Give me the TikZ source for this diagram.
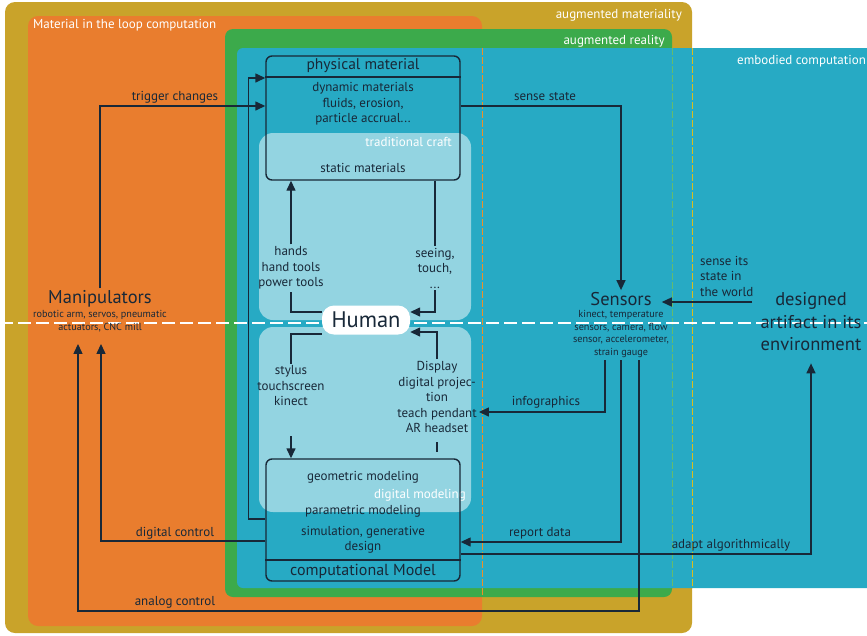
\documentclass[tikz,border=0pt]{standalone}
\usepackage{fontspec}
\setmainfont{PT Sans}
\usetikzlibrary{arrows.meta,calc}
\definecolor{olivec}{RGB}{201,163,42}
\definecolor{orngc}{RGB}{233,125,46}
\definecolor{grnc}{RGB}{60,170,75}
\definecolor{tealc}{RGB}{39,170,196}
\definecolor{ink}{RGB}{24,40,56}
\begin{document}
\begin{tikzpicture}[x=1pt,y=-1pt,
  conn/.style={draw=ink, line width=1.4pt},
  arr/.style={conn, -{Triangle[length=10pt,width=9pt]}},
  lbl/.style={text=ink, font=\fontsize{13}{15.5}\selectfont, align=center, inner sep=2pt},
  regionlbl/.style={text=white, font=\fontsize{13}{14}\selectfont, inner sep=0pt},
  boxnode/.style={draw=ink, line width=1.4pt, rounded corners=6pt, minimum width=194pt, inner sep=0pt},
  biglbl/.style={text=ink, font=\fontsize{18.5}{22.5}\selectfont, align=center, inner sep=2pt},
  sublbl/.style={text=ink, font=\fontsize{10.2}{12.8}\selectfont, align=center, inner sep=2pt},
  vdash/.style={line width=0.9pt, dash pattern=on 7pt off 2pt},
]
\useasboundingbox (0,0) rectangle (867,635);
\fill[white] (0,0) rectangle (867,635);
% regions
\fill[olivec, rounded corners=10pt] (5,2) rectangle (692,633);
\fill[orngc, rounded corners=10pt] (28,16) rectangle (482,626);
\fill[grnc, rounded corners=8pt] (225,29) rectangle (672,597);
\fill[tealc, rounded corners=6pt] (237,48) rectangle (890,588);
\fill[white, fill opacity=0.5, rounded corners=14pt] (259,133) rectangle (471,320);
\fill[white, fill opacity=0.5, rounded corners=14pt] (259,327) rectangle (471,512);
\draw[vdash, orngc!85!yellow] (482,48) -- (482,597);
\draw[vdash, grnc!80!white] (672,48) -- (672,588);
\draw[vdash, olivec!70!yellow] (692,48) -- (692,588);
\draw[white, line width=1.4pt, dash pattern=on 13pt off 5pt] (0,323) -- (867,323);
% region labels
\node[regionlbl, anchor=west] (rl1) at (33,25) {Material in the loop computation};
\node[regionlbl, anchor=east] (rl2) at (682,15) {augmented materiality};
\node[regionlbl, anchor=east] (rl3) at (665,41) {augmented reality};
\node[regionlbl, anchor=west] (rl4) at (737,61) {embodied computation};
\node[regionlbl, anchor=east] (rl5) at (452,142) {traditional craft};
\node[regionlbl, anchor=east] (rl6) at (466,495) {digital modeling};
% physical material box
\node[boxnode, minimum height=124pt] (pm) at (363,118) {};
\draw[conn] (pm.west |- 0,77) -- (pm.east |- 0,77);
\node[lbl, font=\fontsize{15.5}{16}\selectfont] (pmt) at (363,66) {physical material};
\node[lbl] (pmd) at (363,104) {dynamic materials\\fluids, erosion,\\particle accrual...};
\node[lbl] (pms) at (363,168) {static materials};
% computational model box
\node[boxnode, minimum height=122pt] (cm) at (363,520) {};
\draw[conn] (cm.west |- 0,560) -- (cm.east |- 0,560);
\node[lbl] (cm1) at (363,477) {geometric modeling};
\node[lbl] (cm2) at (363,511) {parametric modeling};
\node[lbl] (cm3) at (363,540) {simulation, generative\\design};
\node[lbl, font=\fontsize{16}{17}\selectfont] (cmt) at (363,571) {computational Model};
% human
\node[fill=white, rounded corners=12pt, minimum width=88pt, minimum height=29pt, text=ink, font=\fontsize{22.5}{24}\selectfont, inner sep=0pt] (hu) at (366,320) {Human};
% interface texts
\node[lbl] (hands) at (291,268) {hands\\hand tools\\power tools};
\node[lbl] (seeing) at (435,268) {seeing,\\touch,\\...};
\node[lbl] (stylus) at (291,386) {stylus\\touchscreen\\kinect};
\node[lbl] (display) at (437,397) {Display\\digital projec-\\tion\\teach pendant\\AR headset};
% outer nodes
\node[biglbl] (man) at (100,299) {Manipulators};
\node[sublbl] (mansub) at (100,321) {robotic arm, servos, pneumatic\\actuators, CNC mill};
\node[biglbl] (sen) at (621,299) {Sensors};
\node[sublbl] (sensub) at (621,334) {kinect, temperature\\sensors, camera, flow\\sensor, accelerometer,\\strain gauge};
\node[biglbl, font=\fontsize{18.5}{22.5}\selectfont] (art) at (811,322) {designed\\artifact in its\\environment};
% connector labels
\node[lbl] (l1) at (175,97) {trigger changes};
\node[lbl] (l2) at (545,97) {sense state};
\node[lbl] (l3) at (546,402) {infographics};
\node[lbl] (l4) at (540,533) {report data};
\node[lbl] (l5) at (731,545) {adapt algorithmically};
\node[lbl] (l6) at (175,533) {digital control};
\node[lbl] (l7) at (175,602) {analog control};
\node[lbl, align=left, anchor=west] (l8) at (698,276) {sense its\\state in\\the world};
% connectors
\draw[arr] (man.north) -- (man.north |- 0,106) -- (pm.west |- 0,106);
\draw[arr] (cm.west |- 0,519) -- ++(-17,0) |- (pm.west |- 0,78);
\draw[arr] (pm.east |- 0,106) -| (sen.north);
\draw[conn] (hu.west |- 0,312) -| (hands.south);
\draw[arr] (hands.north) -- (pm.south -| hands.north);
\draw[conn] (pm.south -| seeing.north) -- (seeing.north);
\draw[arr] (seeing.south) |- (hu.east |- 0,312);
\draw[conn] (hu.west |- 0,334) -| (stylus.north);
\draw[arr] ($(cm.north -| stylus.south)+(0,-22)$) -- (cm.north -| stylus.south);
\draw[conn] ($(cm.north -| display.south)+(0,-16)$) -- ($(cm.north -| display.south)+(0,-6)$);
\draw[arr] (display.north) |- (hu.east |- 0,332);
\draw[arr] (sensub.south -| 605,0) |- (display.east |- 0,412);
\draw[arr] (sensub.south -| 621,0) |- (cm.east |- 0,542);
\draw[arr, shorten >=10pt] (sensub.south -| 639,0) |- (78,611) -- (mansub.south -| 78,0);
\draw[arr, shorten >=10pt] (cm.west |- 0,541) -| (mansub.south -| 101,0);
\draw[arr, shorten >=10pt] (cm.east |- 0,554) -| (art.south);
\coordinate (sw) at (752,302);
\draw[arr] (sw) -- ($(sen.east |- sw)+(8,0)$);
\end{tikzpicture}
\end{document}
